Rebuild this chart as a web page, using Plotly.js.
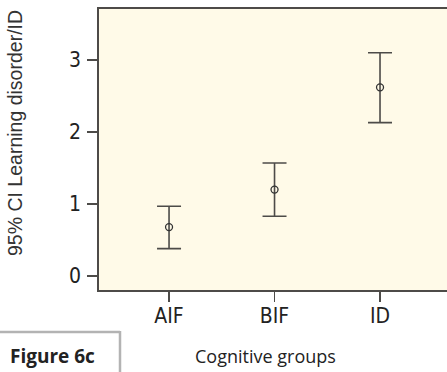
<!DOCTYPE html>
<html>
<head>
<meta charset="utf-8">
<script src="https://cdn.plot.ly/plotly-3.0.1.min.js"></script>
<style>
html,body{margin:0;padding:0;background:#fff;}
#chart{width:447px;height:372px;}
.xtick text, .ytick text { font-stretch: condensed; }
</style>
</head>
<body>
<div id="chart"></div>
<script>
const groups = ['AIF', 'BIF', 'ID'];
const means = [0.68, 1.20, 2.62];
const upper = [0.97, 1.57, 3.10];
const lower = [0.38, 0.83, 2.13];
const yTicks = [0, 1, 2, 3];
const yTitle = '95% CI Learning disorder/ID';
const xTitle = 'Cognitive groups';
const figLabel = 'Figure 6c';

const W = 447, H = 372;
const L = 99, R = 0, T = 9, B = 82;
const pw = W - L - R, ph = H - T - B;
const px = p => (p - L) / pw;
const py = p => (H - B - p) / ph;

const lineCol = '#4d4b48';
const tickFont = {family: 'DejaVu Sans', size: 21, color: '#222'};
const trace = {
  type: 'scatter', mode: 'markers',
  x: groups, y: means,
  marker: {symbol: 'circle-open', size: 7, color: '#333', line: {width: 1.3, color: '#333'}},
  error_y: {
    type: 'data', symmetric: false,
    array: means.map((m, i) => upper[i] - m),
    arrayminus: means.map((m, i) => m - lower[i]),
    color: lineCol, thickness: 1.6, width: 12
  },
  hoverinfo: 'skip'
};

const layout = {
  width: W, height: H,
  margin: {l: L, r: R, t: T, b: B, pad: 0},
  paper_bgcolor: '#ffffff', plot_bgcolor: '#fffae8',
  showlegend: false,
  xaxis: {
    type: 'category', range: [-0.664, 2.635],
    showgrid: false, zeroline: false,
    showline: true, linecolor: lineCol, linewidth: 1.8, mirror: true,
    ticks: 'outside', ticklen: 10, tickwidth: 1.5, tickcolor: lineCol,
    ticklabelstandoff: -4,
    tickfont: tickFont
  },
  yaxis: {
    range: [-0.194, 3.708],
    tickvals: yTicks, ticktext: yTicks.map(String),
    showgrid: false, zeroline: false,
    showline: true, linecolor: lineCol, linewidth: 1.8,
    ticks: 'outside', ticklen: 10, tickwidth: 1.5, tickcolor: lineCol,
    ticklabelstandoff: 2,
    tickfont: tickFont
  },
  annotations: [
    {text: yTitle, xref: 'paper', yref: 'paper', x: px(15), y: py(133), textangle: -90,
     xanchor: 'center', yanchor: 'middle', showarrow: false,
     font: {family: 'Liberation Sans, Arial, sans-serif', size: 19.5, color: '#333'}},
    {text: xTitle, xref: 'paper', yref: 'paper', x: px(265.5), y: py(356),
     xanchor: 'center', yanchor: 'middle', showarrow: false,
     font: {family: 'Open Sans, Liberation Sans, sans-serif', size: 18, color: '#222'}},
    {text: '<b>' + figLabel + '</b>', xref: 'paper', yref: 'paper', x: px(52), y: py(356),
     xanchor: 'center', yanchor: 'middle', showarrow: false,
     font: {family: 'Open Sans, Liberation Sans, sans-serif', size: 19, color: '#222'}}
  ],
  shapes: [
    {type: 'line', xref: 'paper', yref: 'paper', x0: px(-2), x1: px(120), y0: py(332), y1: py(332),
     line: {color: '#b3b3b3', width: 2.5}},
    {type: 'line', xref: 'paper', yref: 'paper', x0: px(120), x1: px(120), y0: py(331), y1: py(380),
     line: {color: '#b3b3b3', width: 2.5}}
  ]
};

Plotly.newPlot('chart', [trace], layout, {displayModeBar: false, staticPlot: true});
</script>
</body>
</html>
